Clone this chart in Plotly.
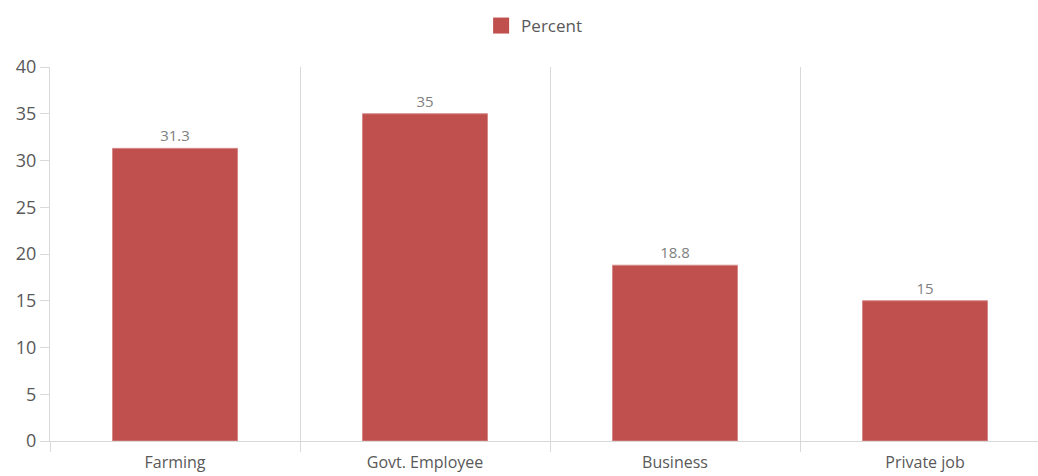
import plotly.graph_objects as go

# Occupation share data
categories = ["Farming", "Govt. Employee", "Business", "Private job"]
percent = [31.3, 35, 18.8, 15]
value_labels = ["31.3", "35", "18.8", "15"]
y_ticks = [0, 5, 10, 15, 20, 25, 30, 35, 40]

BAR_COLOR = "#C0504D"
AXIS_COLOR = "#D9D9D9"
TEXT_COLOR = "#595959"
FONT = "Open Sans, Noto Sans, sans-serif"

fig = go.Figure()

fig.add_trace(go.Bar(
    x=categories,
    y=percent,
    name="Percent",
    width=0.5,
    marker=dict(color=BAR_COLOR, line=dict(color="#D58A88", width=1)),
    text=value_labels,
    textposition="outside",
    textfont=dict(family=FONT, size=15, color="#7F7F7F"),
    cliponaxis=False,
    showlegend=False,
    hoverinfo="x+y",
))

# Legend entry with a larger square swatch
fig.add_trace(go.Scatter(
    x=[None], y=[None],
    mode="markers",
    name="Percent",
    marker=dict(symbol="square", size=16, color=BAR_COLOR),
    showlegend=True,
))

fig.update_layout(
    width=1038,
    height=476,
    margin=dict(l=50, r=0, t=67, b=35),
    paper_bgcolor="white",
    plot_bgcolor="white",
    font=dict(family=FONT, color=TEXT_COLOR),
    showlegend=True,
    legend=dict(
        orientation="h",
        x=0.49, xanchor="center",
        y=1 - 26 / 476, yanchor="middle",
        yref="container",
        font=dict(family=FONT, size=17, color=TEXT_COLOR),
        itemwidth=30,
    ),
    xaxis=dict(
        type="category",
        range=[-0.5, 3.452],
        automargin=False,
        tickson="boundaries",
        ticks="outside",
        ticklen=10,
        tickcolor=AXIS_COLOR,
        ticklabelstandoff=7,
        showgrid=True,
        gridcolor=AXIS_COLOR,
        gridwidth=1,
        showline=True,
        linecolor=AXIS_COLOR,
        linewidth=1,
        tickfont=dict(family=FONT, size=16, color=TEXT_COLOR),
        fixedrange=True,
    ),
    yaxis=dict(
        range=[0, 40],
        tickvals=y_ticks,
        automargin=False,
        ticks="outside",
        ticklen=9,
        tickcolor=AXIS_COLOR,
        showgrid=False,
        zeroline=False,
        showline=True,
        linecolor=AXIS_COLOR,
        linewidth=1,
        tickfont=dict(family=FONT, size=18, color=TEXT_COLOR),
        fixedrange=True,
    ),
)

fig.write_html("out.html", config={"displayModeBar": False})
